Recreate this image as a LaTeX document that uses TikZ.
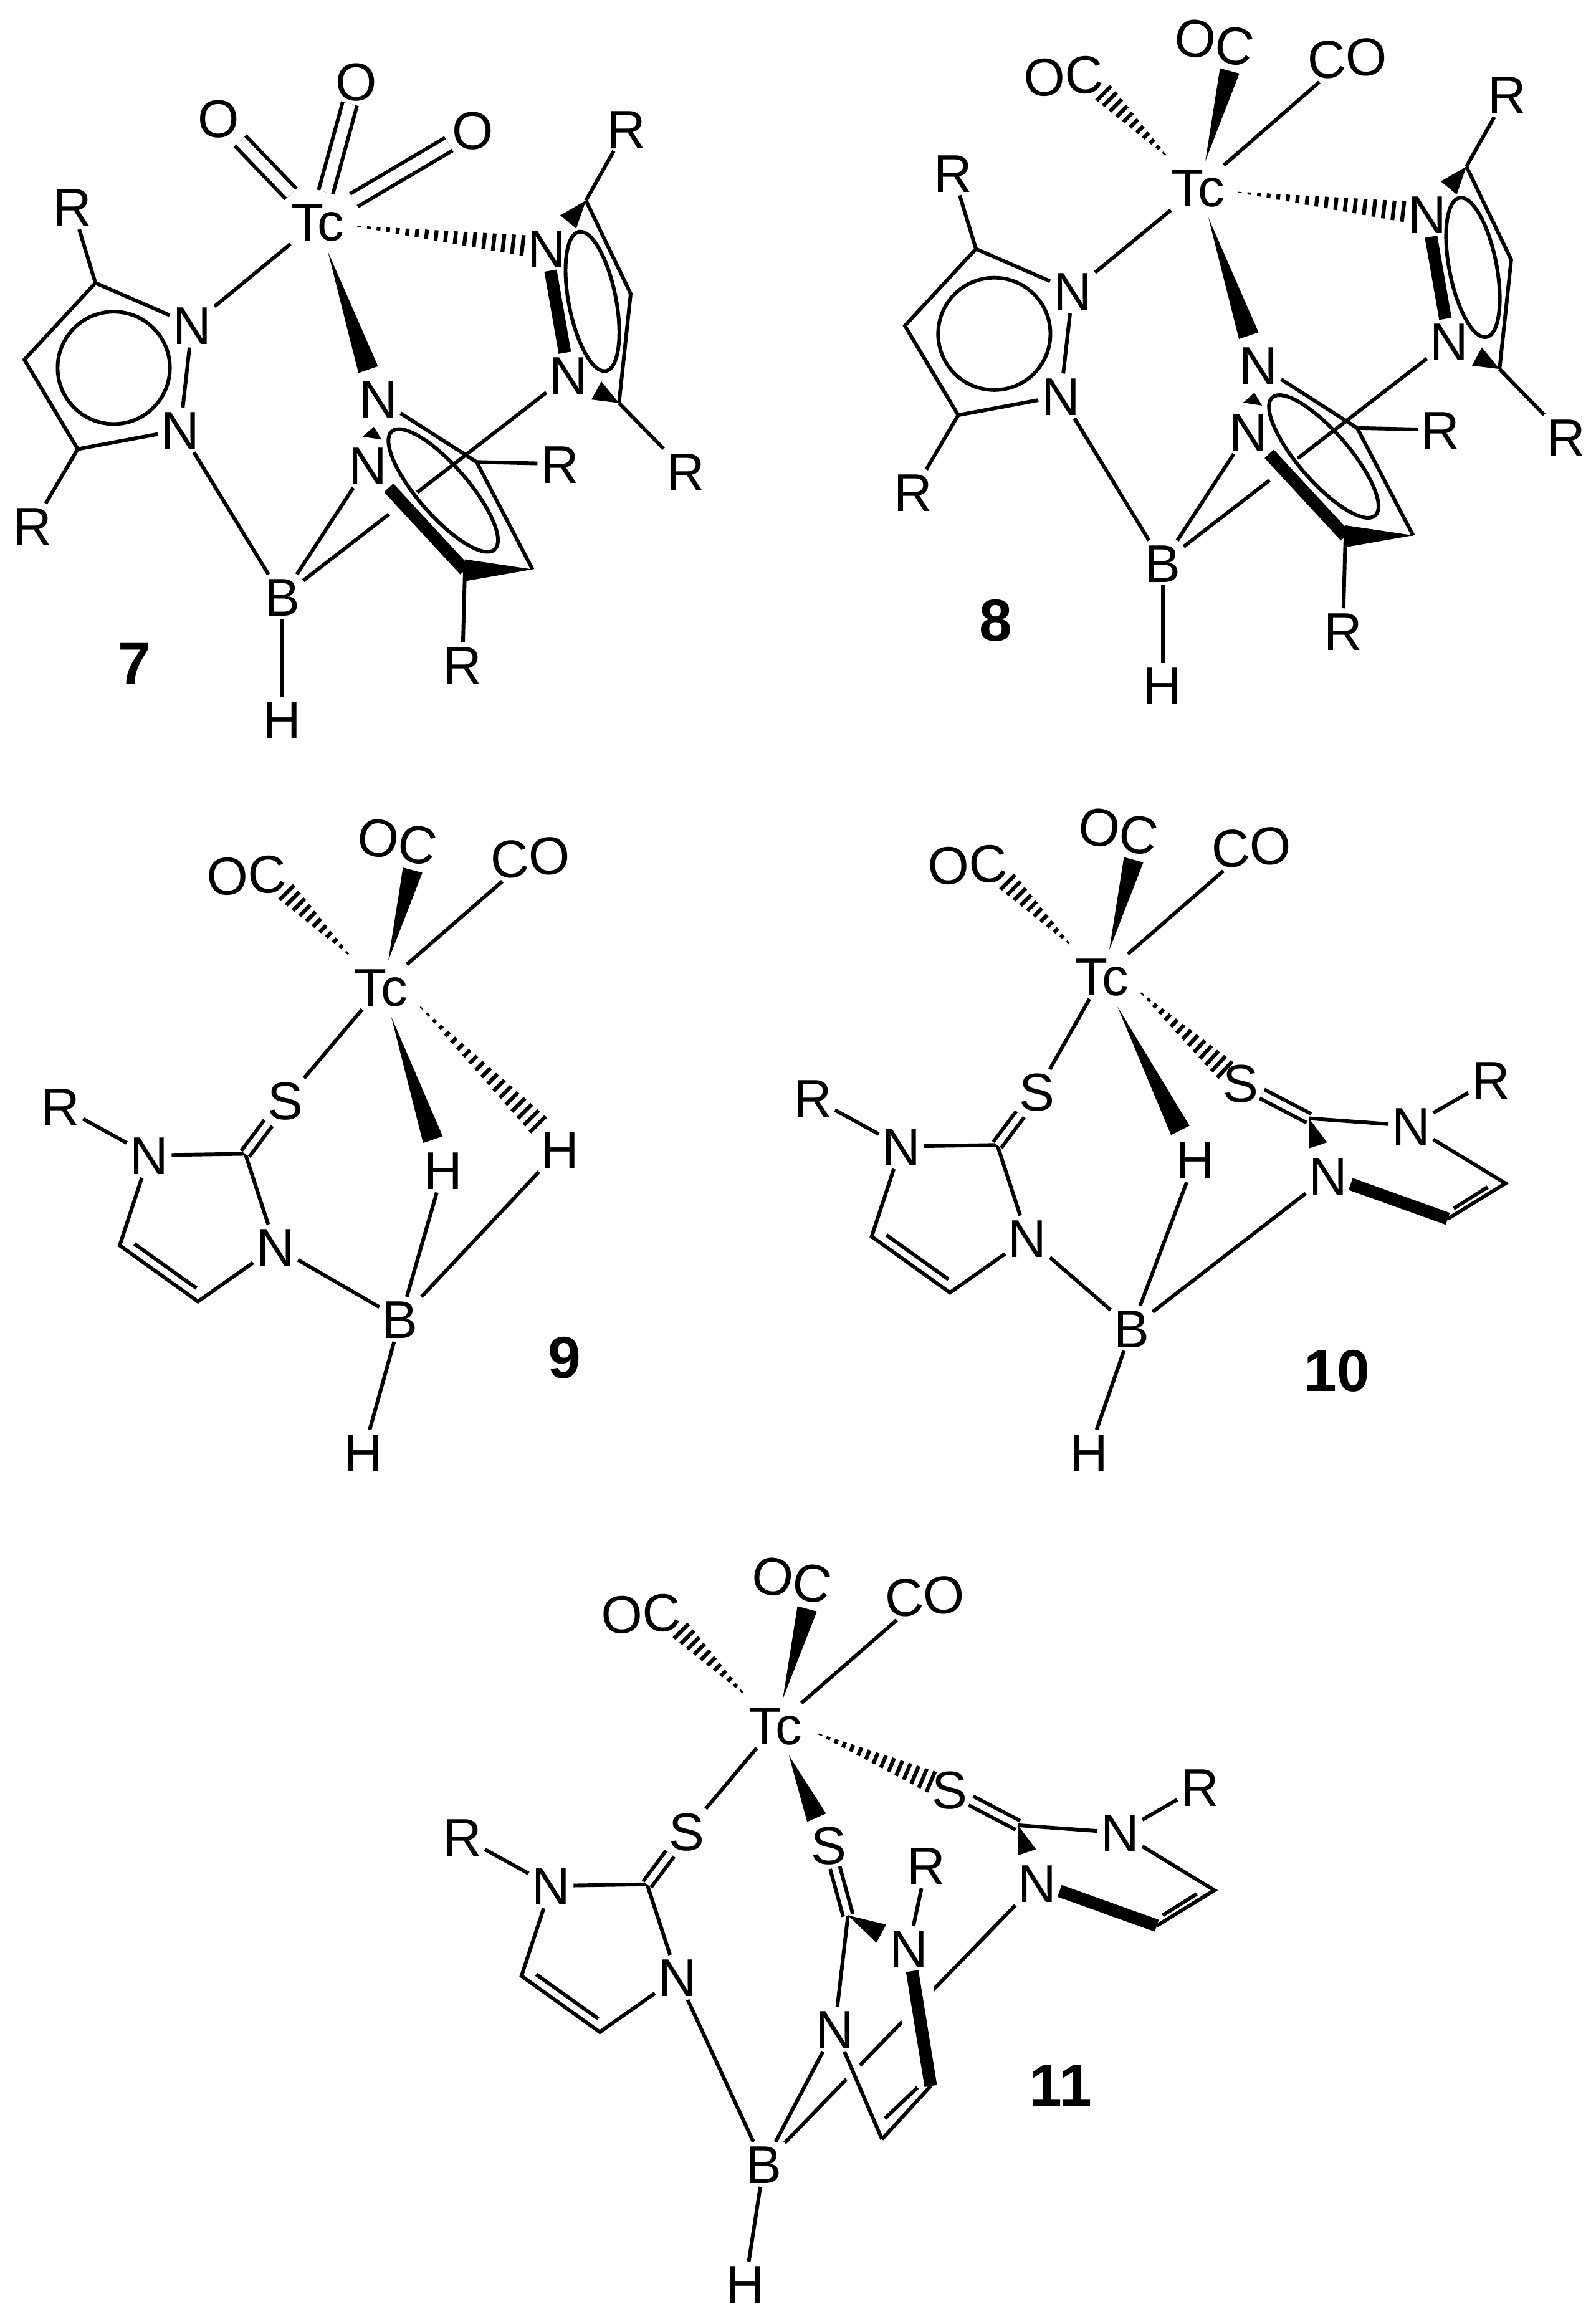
\documentclass[tikz,border=0pt]{standalone}
\usepackage{fontspec}
\setmainfont{Liberation Sans}
\usetikzlibrary{calc}
\tikzstyle{atom} = [font=\fontsize{36}{40}\selectfont, inner sep=2pt, text height=26pt, text depth=0pt]
\tikzstyle{complexno} = [font=\fontsize{40}{44}\selectfont\bfseries, inner sep=2pt]
\tikzstyle{bond} = [line width=2.5pt]
\tikzstyle{dblbond} = [line width=2.5pt, double, double distance=7.5pt, shorten <=5pt]
\tikzstyle{sdblbond} = [line width=2.5pt, double, double distance=4.2pt]
\tikzstyle{boldbond} = [line width=8.5pt]
\tikzstyle{hashline} = [line width=2.6pt]
\tikzset{halo/.style={preaction={draw, white, line width=#1}}}
\newcommand{\wedgebond}[5]{
    \fill ($(#1)!#3!(#2)$) -- ($(#1)!#4!(#2)!#5pt!90:(#1)$) -- ($(#1)!#4!(#2)!#5pt!-90:(#1)$) -- cycle;
}
\newcommand{\hashbond}[6]{
    \coordinate (hs) at ($(#1)!#3!(#2)$);
    \coordinate (he) at ($(#1)!#4!(#2)$);
    \foreach \hnum in {1,...,#6} {
        \pgfmathsetmacro{\hpos}{\hnum/#6}
        \draw [hashline] ($(hs)!\hpos!(he)!\hpos*#5pt!90:(hs)$) -- ($(hs)!\hpos!(he)!\hpos*#5pt!-90:(hs)$);
    }
}
\newcommand{\tpbligand}[3]{
    \begin{scope}[shift={(#2,#3)}]
    \node (Tc#1) [atom] at (215,150) {Tc};
    \node (Ra#1) [atom] at (49,140) {R};
    \node (Na#1) [atom] at (130,220) {N};
    \node (Nb#1) [atom] at (122,291) {N};
    \node (Rb#1) [atom] at (22,356) {R};
    \node (B#1) [atom] at (191,404) {B};
    \node (H#1) [atom] at (191,487) {H};
    \node (Nc#1) [atom] at (256,270) {N};
    \node (Nd#1) [atom] at (249,315) {N};
    \node (Rc#1) [atom] at (379,314) {R};
    \node (Rd#1) [atom] at (313,450) {R};
    \node (Ne#1) [atom] at (370,168) {N};
    \node (Nf#1) [atom] at (385,254) {N};
    \node (Re#1) [atom] at (424,87) {R};
    \node (Rf#1) [atom] at (464,319) {R};
    \coordinate (ca#1) at (64.6,191.5);
    \coordinate (cb#1) at (16.5,243.5);
    \coordinate (cc#1) at (52.6,304);
    \coordinate (cd#1) at (322.6,312.7);
    \coordinate (ce#1) at (360.5,385.4);
    \coordinate (cf#1) at (314.7,386);
    \coordinate (cg#1) at (396.6,135.7);
    \coordinate (ch#1) at (426.9,198.8);
    \coordinate (ci#1) at (419,272.8);
    \draw [bond] (Tc#1) -- (Na#1);
    \draw [bond] (Ra#1) -- (ca#1);
    \draw [bond] (Rb#1) -- (cc#1);
    \draw [bond] (Na#1) -- (ca#1) -- (cb#1) -- (cc#1) -- (Nb#1);
    \draw [bond] (Na#1) -- (Nb#1);
    \draw [bond] (77,249) circle [radius=38pt];
    \draw [bond] (Nb#1) -- (B#1);
    \draw [bond] (B#1) -- (H#1);
    \draw [bond] (B#1) -- (Nd#1);
    \draw [bond] (B#1) -- (Nf#1);
    \draw [boldbond, halo=24pt] (Nd#1) -- (cf#1);
    \draw [bond] (Nc#1) -- (cd#1) -- (ce#1);
    \draw [bond] (cd#1) -- (Rc#1);
    \draw [bond] (cf#1) -- (Rd#1);
    \wedgebond{ce#1}{cf#1}{0}{1}{7.4}
    \wedgebond{Nc#1}{Nd#1}{.42}{.59}{6.5}
    \draw [bond, rotate around={-49:(300,332)}] (300,332) ellipse [x radius=53pt, y radius=17pt];
    \draw [boldbond] (Ne#1) -- (Nf#1);
    \draw [bond] (cg#1) -- (ch#1) -- (ci#1);
    \draw [bond] (cg#1) -- (Re#1);
    \draw [bond] (ci#1) -- (Rf#1);
    \wedgebond{cg#1}{Ne#1}{0}{.45}{7}
    \wedgebond{ci#1}{Nf#1}{0}{.45}{7}
    \draw [bond, rotate around={-79:(401,204)}] (401,204) ellipse [x radius=48pt, y radius=16pt];
    \wedgebond{Tc#1}{Nc#1}{.17}{.835}{7}
    \hashbond{Tc#1}{Ne#1}{.14}{.895}{7}{18}
    \end{scope}
}
\newcommand{\tricarbonyl}[1]{
    \node (OCa#1) [atom, rotate=3] at ($(Tc#1)+(-91,-76)$) {OC};
    \node (OCb#1) [atom, rotate=-10] at ($(Tc#1)+(11,-99)$) {OC};
    \node (CO#1) [atom, rotate=4] at ($(Tc#1)+(101,-88)$) {CO};
    \coordinate (hashOC#1) at ($(Tc#1)+(-76,-76)$);
    \coordinate (wedgeOC#1) at ($(Tc#1)+(27,-100)$);
    \hashbond{Tc#1}{hashOC#1}{.25}{.84}{7}{11}
    \wedgebond{Tc#1}{wedgeOC#1}{.18}{.79}{6.8}
    \draw [bond] (Tc#1) -- (CO#1);
}
\newcommand{\imidleft}[3]{
    \node (S#1) [atom] at (#2,#3) {S};
    \node (R#1) [atom] at ($(S#1)+(-152,4)$) {R};
    \node (Na#1) [atom] at ($(S#1)+(-92,37)$) {N};
    \node (Nb#1) [atom] at ($(S#1)+(-6.5,99)$) {N};
    \coordinate (cb#1) at ($(S#1)+(-27,36)$);
    \coordinate (cd#1) at ($(S#1)+(-112,98)$);
    \coordinate (ce#1) at ($(S#1)+(-59,136)$);
    \coordinate (cf#1) at ($(S#1)+(-102,97)$);
    \coordinate (cg#1) at ($(S#1)+(-60,127)$);
    \draw [bond] (R#1) -- (Na#1);
    \draw [bond] (Na#1) -- (cb#1) -- (Nb#1);
    \draw [sdblbond] (S#1) -- (cb#1);
    \draw [bond] (Na#1) -- (cd#1) -- (ce#1) -- (Nb#1);
    \draw [bond] (cf#1) -- (cg#1);
}
\newcommand{\imidright}[3]{
    \node (S#1) [atom] at (#2,#3) {S};
    \node (Nc#1) [atom] at ($(S#1)+(115,29)$) {N};
    \node (Nd#1) [atom] at ($(S#1)+(59,63)$) {N};
    \node (Rr#1) [atom] at ($(S#1)+(169,-2)$) {R};
    \coordinate (ch#1) at ($(S#1)+(46,24)$);
    \coordinate (ci#1) at ($(S#1)+(179,68)$);
    \coordinate (cj#1) at ($(S#1)+(140,92)$);
    \coordinate (ck#1) at ($(S#1)+(144,85)$);
    \coordinate (cl#1) at ($(S#1)+(167,70.5)$);
    \draw [sdblbond] (S#1) -- (ch#1);
    \draw [bond] (ch#1) -- (Nc#1);
    \wedgebond{ch#1}{Nd#1}{0}{.47}{6.5}
    \draw [bond] (Nc#1) -- (Rr#1);
    \draw [bond] (Nc#1) -- (ci#1) -- (cj#1);
    \draw [bond] (ck#1) -- (cl#1);
    \draw [boldbond] (Nd#1) -- (cj#1);
}
\begin{document}
\begin{tikzpicture}[x=1pt, y=-1pt]
    \useasboundingbox (0,0) rectangle (1080,1565);
    \tpbligand{seven}{0}{0}
    \node (Oa) [atom] at (148,80) {O};
    \node (Ob) [atom] at (241,55) {O};
    \node (Oc) [atom] at (320,88) {O};
    \draw [dblbond] (Tcseven) -- (Oa);
    \draw [dblbond] (Tcseven) -- (Ob);
    \draw [dblbond] (Tcseven) -- (Oc);
    \node (Numseven) [complexno] at (91,449) {7};

    \tpbligand{eight}{596}{-23}
    \tricarbonyl{eight}
    \node (Numeight) [complexno] at (674,420) {8};

    \node (Tcnine) [atom] at (258,668) {Tc};
    \tricarbonyl{nine}
    \imidleft{nine}{193}{745}
    \node (Bnine) [atom] at (271,893) {B};
    \node (Hnine) [atom] at (246,983) {H};
    \node (Hanine) [atom] at (300,792) {H};
    \node (Hbnine) [atom] at (379,778) {H};
    \draw [bond] (Tcnine) -- (Snine);
    \draw [bond] (Nbnine) -- (Bnine);
    \draw [bond] (Bnine) -- (Hnine);
    \draw [bond] (Bnine) -- (Hanine);
    \draw [bond] (Bnine) -- (Hbnine);
    \wedgebond{Tcnine}{Hanine}{.163}{.834}{7}
    \coordinate (hashanine) at (281,678);
    \coordinate (hashbnine) at (364,761);
    \hashbond{hashanine}{hashbnine}{0}{1}{7.5}{19}
    \node (Numnine) [complexno] at (382,919) {9};

    \node (Tcten) [atom] at (746,661) {Tc};
    \tricarbonyl{ten}
    \imidleft{ten}{702}{739}
    \imidright{tenb}{840}{733}
    \node (Bten) [atom] at (766,899) {B};
    \node (Hten) [atom] at (737,983) {H};
    \node (Haten) [atom] at (809,785) {H};
    \draw [bond] (Tcten) -- (Sten);
    \draw [bond] (Nbten) -- (Bten);
    \draw [bond] (Bten) -- (Hten);
    \draw [bond] (Bten) -- (Haten);
    \draw [bond] (Bten) -- (Ndtenb);
    \wedgebond{Tcten}{Haten}{.165}{.84}{7}
    \coordinate (hashaten) at (769,669);
    \coordinate (hashbten) at (829,724);
    \hashbond{hashaten}{hashbten}{0}{1}{7.5}{14}
    \node (Numten) [complexno] at (905,928) {10};

    \node (Tcel) [atom] at (525,1168) {Tc};
    \tricarbonyl{el}
    \imidleft{el}{465}{1239.5}
    \imidright{elb}{643}{1211.5}
    \node (Bel) [atom] at (517,1465) {B};
    \node (Hel) [atom] at (504.5,1546) {H};
    \node (Sm) [atom] at (561,1249) {S};
    \node (Nma) [atom] at (615,1319) {N};
    \node (Nmb) [atom] at (565,1373.5) {N};
    \node (Rm) [atom] at (627,1263) {R};
    \coordinate (cma) at (574,1296.5);
    \coordinate (cmb) at (630,1412);
    \coordinate (cmc) at (597,1448);
    \coordinate (cmd) at (599,1434);
    \coordinate (cme) at (621,1413);
    \draw [bond] (Tcel) -- (Sel);
    \draw [bond] (Nbel) -- (Bel);
    \draw [bond] (Bel) -- (Hel);
    \draw [bond] (Bel) -- (Ndelb);
    \draw [bond] (Bel) -- (Nmb);
    \draw [bond, halo=12pt] (Nmb) -- (cmc);
    \draw [boldbond, halo=25pt] (Nma) -- (cmb);
    \draw [bond] (cmb) -- (cmc);
    \draw [bond] (cmd) -- (cme);
    \draw [bond] (cma) -- (Nmb);
    \draw [bond] (Nma) -- (Rm);
    \draw [sdblbond] (Sm) -- (cma);
    \wedgebond{cma}{Nma}{0}{.55}{7}
    \wedgebond{Tcel}{Sm}{.25}{.77}{7}
    \coordinate (hashael) at (550,1172);
    \coordinate (hashbel) at (630,1206);
    \hashbond{hashael}{hashbel}{0}{1}{7.5}{15}
    \node (Numel) [complexno] at (718,1412) {11};
\end{tikzpicture}
\end{document}
